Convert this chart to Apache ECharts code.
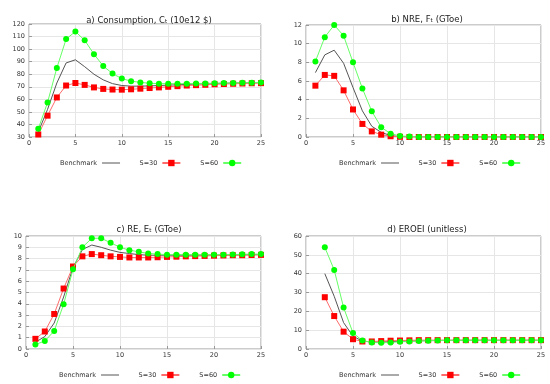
<!DOCTYPE html>
<html><head><meta charset="utf-8">
<script src="https://cdn.jsdelivr.net/npm/echarts@6/dist/echarts.min.js"></script>
<style>html,body{margin:0;padding:0;background:#fff}#c{width:550px;height:384px}</style>
</head><body><div id="c"></div>
<script>
const xA = [1,2,3,4,5,6,7,8,9,10,11,12,13,14,15,16,17,18,19,20,21,22,23,24,25];
const xD = [2,3,4,5,6,7,8,9,10,11,12,13,14,15,16,17,18,19,20,21,22,23,24,25];

const consBench = [34,52,73,89,91.5,86,80,75.5,72.5,71,70.5,70.5,70.7,71,71.3,71.6,71.9,72.2,72.4,72.6,72.8,73,73.1,73.2,73.3];
const consS30 = [32,47,61.5,71,73,71.5,69.5,68.3,67.8,67.7,68,68.5,69,69.5,70,70.5,71,71.3,71.6,72,72.2,72.4,72.6,72.8,72.9];
const consS60 = [36.5,57.5,85,108,114,107,96,86.5,80.5,76.5,74.5,73.5,72.8,72.5,72.5,72.5,72.5,72.6,72.7,72.8,73,73,73.2,73.3,73.5];

const nreBench = [6.9,8.8,9.3,7.9,5.3,2.8,1.15,0.5,0.15,0.05,0.02,0,0,0,0,0,0,0,0,0,0,0,0,0,0];
const nreS30 = [5.5,6.65,6.55,5.0,2.95,1.4,0.6,0.25,0.08,0.02,0,0,0,0,0,0,0,0,0,0,0,0,0,0,0];
const nreS60 = [8.1,10.7,12,10.85,8.0,5.2,2.75,1.05,0.35,0.12,0.05,0,0,0,0,0,0,0,0,0,0,0,0,0,0];

const reBench = [0.6,1.1,2.3,4.6,7.2,8.8,9.2,9.0,8.75,8.55,8.45,8.35,8.3,8.3,8.3,8.3,8.3,8.3,8.31,8.32,8.32,8.33,8.34,8.35,8.35];
const reS30 = [0.9,1.55,3.1,5.35,7.3,8.2,8.4,8.3,8.2,8.15,8.1,8.1,8.1,8.12,8.15,8.17,8.2,8.22,8.24,8.26,8.28,8.3,8.3,8.32,8.33];
const reS60 = [0.4,0.7,1.6,3.95,7.05,9.0,9.8,9.8,9.4,9.0,8.75,8.6,8.45,8.4,8.35,8.35,8.35,8.35,8.35,8.35,8.35,8.36,8.38,8.4,8.4];

const eroeiBench = [40,28,14,6.8,4.2,3.7,3.7,3.9,4.1,4.25,4.35,4.45,4.5,4.55,4.6,4.6,4.6,4.6,4.6,4.6,4.6,4.6,4.6,4.6];
const eroeiS30 = [27.5,17.5,9.2,5.2,4.0,4.0,4.2,4.4,4.5,4.6,4.7,4.7,4.7,4.7,4.7,4.7,4.7,4.7,4.7,4.7,4.7,4.7,4.7,4.7];
const eroeiS60 = [54,42,22,8.5,4.5,3.5,3.3,3.5,3.8,4.0,4.2,4.4,4.5,4.6,4.6,4.6,4.6,4.6,4.6,4.6,4.6,4.6,4.6,4.6];

const titles = ['a) Consumption, Cₜ (10e12 $)','b) NRE, Fₜ (GToe)','c) RE, Eₜ (GToe)','d) EROEI (unitless)'];
const seriesNames = ['Benchmark','S=30','S=60'];
const yMin = [30,0,0,0], yMax = [120,12,10,60], yInt = [10,2,1,10];

const panels = [
  {x:xA, d:[consBench,consS30,consS60]},
  {x:xA, d:[nreBench,nreS30,nreS60]},
  {x:xA, d:[reBench,reS30,reS60]},
  {x:xD, d:[eroeiBench,eroeiS30,eroeiS60]}
];
const gridPos = [
  {left:29,top:24,width:232,height:113},
  {left:306,top:25,width:235,height:112},
  {left:26,top:236,width:235,height:113},
  {left:306,top:236,width:235,height:113}
];
const titlePos = [[144,11],[422,10],[144,220],[422,220]];
const legendPos = [[55,154.5],[334,154.5],[54,366.5],[334,366.5]];
const font = 'DejaVu Sans';
const grid=[],xAxis=[],yAxis=[],series=[],title=[],legend=[];
panels.forEach((p,i)=>{
  grid.push(Object.assign({show:true,borderColor:'#999',borderWidth:1,backgroundColor:'#fff'},gridPos[i]));
  xAxis.push({type:'value',gridIndex:i,min:0,max:25,interval:5,
    axisLine:{show:false},axisTick:{show:true,inside:true,length:3,lineStyle:{color:'#999'}},
    axisLabel:{fontFamily:font,fontSize:6.5,color:'#333',margin:3},
    splitLine:{show:true,lineStyle:{color:'#e6e6e6',width:1}}});
  yAxis.push({type:'value',gridIndex:i,min:yMin[i],max:yMax[i],interval:yInt[i],
    axisLine:{show:false},axisTick:{show:true,inside:true,length:3,lineStyle:{color:'#999'}},
    axisLabel:{fontFamily:font,fontSize:6.5,color:'#333',margin:4},
    splitLine:{show:true,lineStyle:{color:'#e6e6e6',width:1}}});
  title.push({text:titles[i],left:titlePos[i][0],top:titlePos[i][1],textAlign:'center',
    textStyle:{fontFamily:font,fontSize:8.5,fontWeight:'normal',color:'#222'}});
  legend.push({left:legendPos[i][0],top:legendPos[i][1],align:'right',itemWidth:18,itemHeight:8,itemGap:19,
    data:[{name:'Benchmark',itemStyle:{color:'rgba(0,0,0,0)',borderWidth:0,opacity:0},lineStyle:{width:1,color:'#555'}},'S=30','S=60'],
    textStyle:{fontFamily:font,fontSize:6.5,color:'#333'},selectedMode:false});
  const mk = (arr)=>arr.map((v,k)=>[p.x[k],v]);
  series.push({name:'Benchmark',type:'line',xAxisIndex:i,yAxisIndex:i,data:mk(p.d[0]),showSymbol:false,symbol:'none',
    lineStyle:{color:'#555',width:1},itemStyle:{color:'#555'},z:3,animation:false});
  series.push({name:'S=30',type:'line',xAxisIndex:i,yAxisIndex:i,data:mk(p.d[1]),symbol:'rect',symbolSize:6,
    lineStyle:{color:'#ff6b6b',width:1},itemStyle:{color:'#ff0000'},z:4,animation:false});
  series.push({name:'S=60',type:'line',xAxisIndex:i,yAxisIndex:i,data:mk(p.d[2]),symbol:'circle',symbolSize:6,
    lineStyle:{color:'#66ff66',width:1},itemStyle:{color:'#00ff00'},z:5,animation:false});
});
const chart = echarts.init(document.getElementById('c'),null,{renderer:'canvas'});
chart.setOption({backgroundColor:'#fff',animation:false,grid,xAxis,yAxis,series,title,legend});
</script></body></html>
